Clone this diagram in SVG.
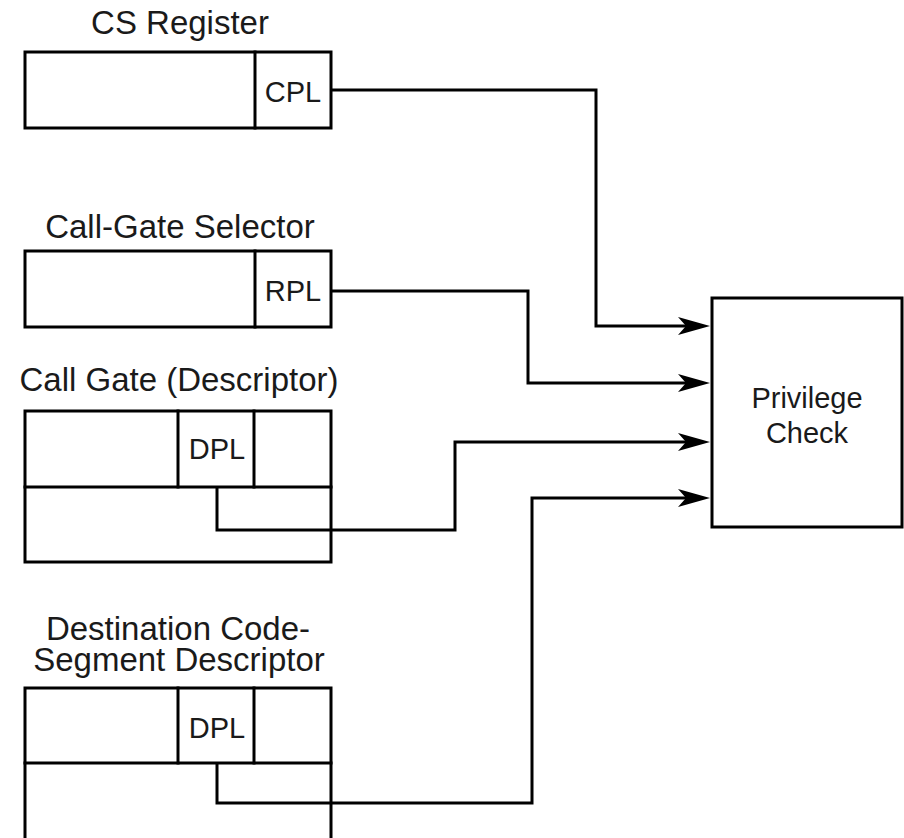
<svg xmlns="http://www.w3.org/2000/svg" width="904" height="838" viewBox="0 0 904 838">
<style>
.b{fill:none;stroke:#000;stroke-width:3;stroke-linecap:square}
.c{fill:none;stroke:#000;stroke-width:3;stroke-linejoin:miter}
.t{font-family:"Liberation Sans",Arial,sans-serif;font-size:33px;fill:#1a1a1a;text-anchor:middle}
.s{font-family:"Liberation Sans",Arial,sans-serif;font-size:29px;fill:#1a1a1a;text-anchor:middle}
</style>
<defs>
<polygon id="ah" points="0,0 -32,-9 -24,0 -32,9" fill="#000"/>
</defs>
<rect width="904" height="838" fill="#fff"/>
<g id="cs-register">
<text class="t" x="180" y="34">CS Register</text>
<rect class="b" x="25" y="52" width="306" height="76"/>
<line class="b" x1="255" y1="52" x2="255" y2="128"/>
<text class="s" x="293" y="102">CPL</text>
</g>
<g id="call-gate-selector">
<text class="t" x="180" y="238">Call-Gate Selector</text>
<rect class="b" x="25" y="251" width="306" height="76"/>
<line class="b" x1="255" y1="251" x2="255" y2="327"/>
<text class="s" x="293" y="301">RPL</text>
</g>
<g id="call-gate-descriptor">
<text class="t" x="179" y="391">Call Gate (Descriptor)</text>
<rect class="b" x="25" y="411" width="306" height="151"/>
<line class="b" x1="25" y1="487" x2="331" y2="487"/>
<line class="b" x1="178" y1="411" x2="178" y2="487"/>
<line class="b" x1="254" y1="411" x2="254" y2="487"/>
<text class="s" x="217" y="459">DPL</text>
</g>
<g id="dest-code-segment-descriptor">
<text class="t" x="178" y="640">Destination Code-</text>
<text class="t" x="179" y="671">Segment Descriptor</text>
<path class="b" d="M25,840 V688 H331 V840"/>
<line class="b" x1="25" y1="763" x2="331" y2="763"/>
<line class="b" x1="178" y1="688" x2="178" y2="763"/>
<line class="b" x1="254" y1="688" x2="254" y2="763"/>
<text class="s" x="217" y="738">DPL</text>
</g>
<g id="privilege-check">
<rect class="b" x="712" y="298" width="190" height="229"/>
<text class="s" x="807" y="408">Privilege</text>
<text class="s" x="807" y="443">Check</text>
</g>
<g id="connectors">
<path class="c" d="M331,90 H596 V326 H690"/>
<path class="c" d="M331,291 H528 V383 H690"/>
<path class="c" d="M217,487 V530 H455 V442 H690"/>
<path class="c" d="M217,763 V803 H532 V498 H690"/>
<use href="#ah" x="710" y="326"/>
<use href="#ah" x="710" y="383"/>
<use href="#ah" x="710" y="442"/>
<use href="#ah" x="710" y="498"/>
</g>
</svg>
